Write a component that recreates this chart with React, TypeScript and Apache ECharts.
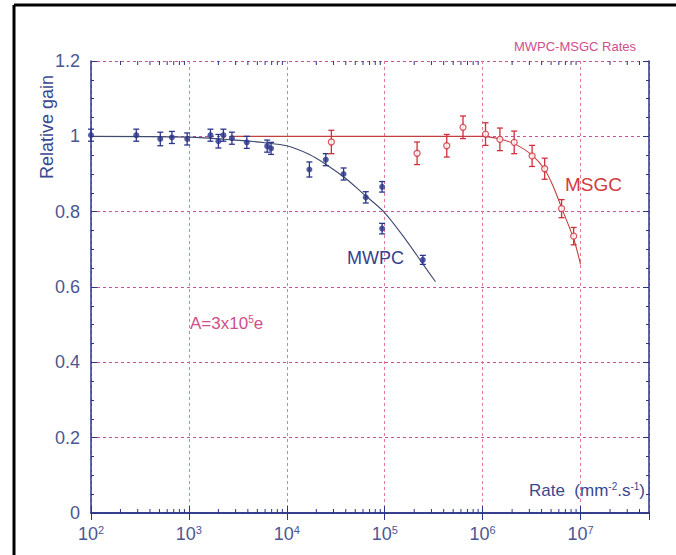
import React, { useEffect, useRef } from "react";
import * as echarts from "echarts";

// ---- Data ----
const MWPC_X = [100, 290, 510, 670, 960, 1660, 2000, 2250, 2750, 3900, 6300, 6900, 17000, 25000, 38000, 64000, 94000, 94000, 245000];
const MWPC_Y = [1.003, 1.003, 0.993, 0.997, 0.993, 1.003, 0.987, 1.003, 0.995, 0.984, 0.974, 0.968, 0.912, 0.938, 0.9, 0.838, 0.866, 0.755, 0.672];
const MWPC_ERR = [0.016, 0.016, 0.018, 0.016, 0.016, 0.016, 0.018, 0.016, 0.016, 0.016, 0.016, 0.016, 0.02, 0.016, 0.016, 0.015, 0.014, 0.014, 0.012];

const MSGC_X = [28500, 214000, 430000, 630000, 1070000, 1500000, 2100000, 3200000, 4300000, 6400000, 8500000];
const MSGC_Y = [0.985, 0.955, 0.975, 1.024, 1.006, 0.992, 0.984, 0.948, 0.914, 0.808, 0.735];
const MSGC_ERR = [0.031, 0.03, 0.03, 0.03, 0.03, 0.03, 0.03, 0.028, 0.028, 0.024, 0.023];

const MWPC_FIT_X = [100, 1000, 3000, 6000, 10000, 17000, 25000, 40000, 60000, 100000, 170000, 250000, 330000];
const MWPC_FIT_Y = [1.0, 0.998, 0.99, 0.983, 0.975, 0.952, 0.926, 0.888, 0.848, 0.797, 0.72, 0.658, 0.614];

const MSGC_FIT_X = [2700, 1000000, 1500000, 2200000, 3200000, 4300000, 5300000, 6400000, 8500000, 10000000];
const MSGC_FIT_Y = [1.0, 1.0, 0.993, 0.978, 0.95, 0.912, 0.865, 0.81, 0.728, 0.66];

const X_DECADES = [100, 1000, 10000, 100000, 1000000, 10000000];
const X_MINOR_MULT = [2, 3, 4, 5, 6, 7, 8, 9];
const X_MIN = 100;
const X_MAX = 50000000;
const Y_MIN = 0;
const Y_MAX = 1.2;

const FONT = "'Liberation Sans', Arial, sans-serif";
const NAVY = "#2b3588";
const LABEL = "#4b5792";
const RED = "#d0303c";
const PINK = "#cf4f8a";

function errorBarSeries(xs: number[], ys: number[], es: number[], color: string) {
  return {
    type: "custom",
    z: 3,
    data: xs.map((x, i) => [x, ys[i], es[i]]),
    encode: { x: 0, y: 1 },
    renderItem: (_p: any, api: any) => {
      const x = api.value(0);
      const y = api.value(1);
      const e = api.value(2);
      const t = api.coord([x, y + e]);
      const b = api.coord([x, y - e]);
      const w = 3;
      const st = { stroke: color, lineWidth: 1.3 };
      return {
        type: "group",
        children: [
          { type: "line", shape: { x1: t[0], y1: t[1], x2: b[0], y2: b[1] }, style: st },
          { type: "line", shape: { x1: t[0] - w, y1: t[1], x2: t[0] + w, y2: t[1] }, style: st },
          { type: "line", shape: { x1: b[0] - w, y1: b[1], x2: b[0] + w, y2: b[1] }, style: st },
        ],
      };
    },
  };
}

function supRich(color: string, base: number, sup: number) {
  return {
    a: { fontSize: base, lineHeight: base + 1, verticalAlign: "bottom", fill: color, color, fontFamily: FONT },
    s: { fontSize: sup, lineHeight: sup + 1, verticalAlign: "top", padding: [0, 0, Math.round(base * 0.6), 0], fill: color, color, fontFamily: FONT },
  };
}

export default function App() {
  const ref = useRef<HTMLDivElement>(null);
  useEffect(() => {
    if (!ref.current) return;
    const chart = echarts.init(ref.current, undefined, { renderer: "svg" });

    const minorTicks: number[][] = [];
    X_DECADES.forEach((d) => X_MINOR_MULT.forEach((m) => {
      if (d * m < X_MAX) minorTicks.push([d * m, 0]);
    }));

    const xLabelFmt = (v: number) => {
      const e = Math.round(Math.log10(v));
      if (Math.abs(Math.pow(10, e) - v) / v > 1e-6) return "";
      return `{a|10}{s|${e}}`;
    };

    const option: any = {
      animation: false,
      backgroundColor: "#ffffff",
      grid: { left: 91, right: 27, top: 61, bottom: 42, containLabel: false },
      xAxis: [
        {
          type: "log",
          logBase: 10,
          min: X_MIN,
          max: X_MAX,
          position: "bottom",
          axisLine: { show: true, lineStyle: { color: NAVY, width: 1.5 } },
          axisTick: { show: true, inside: true, length: 7, lineStyle: { color: NAVY, width: 1 } },
          axisLabel: { formatter: xLabelFmt, fontSize: 18, color: LABEL, rich: supRich(LABEL, 18, 11), margin: 11, showMaxLabel: false },
          splitLine: { show: true, lineStyle: { color: "#e27a9c", type: [3, 3], width: 1 } },
          minorTick: { show: false },
        },
        {
          type: "log",
          logBase: 10,
          min: X_MIN,
          max: X_MAX,
          position: "top",
          axisLine: { show: true, lineStyle: { color: NAVY, width: 1.5 } },
          axisTick: { show: true, inside: true, length: 7, lineStyle: { color: NAVY, width: 1 } },
          axisLabel: { show: false },
          splitLine: { show: false },
        },
      ],
      yAxis: [
        {
          type: "value",
          min: Y_MIN,
          max: Y_MAX,
          interval: 0.2,
          position: "left",
          axisLine: { show: true, lineStyle: { color: NAVY, width: 1.5 } },
          axisTick: { show: true, inside: true, length: 6, lineStyle: { color: NAVY, width: 1 } },
          minorTick: { show: true, splitNumber: 4, length: 3, lineStyle: { color: NAVY, width: 1 } },
          axisLabel: {
            formatter: (v: number) => String(+v.toFixed(1)),
            color: LABEL,
            fontSize: 18,
            fontFamily: FONT,
            margin: 11,
          },
          splitLine: { show: true, lineStyle: { color: "#c2589a", type: [3, 3], width: 1 } },
        },
        {
          type: "value",
          min: Y_MIN,
          max: Y_MAX,
          interval: 0.2,
          position: "right",
          axisLine: { show: true, lineStyle: { color: NAVY, width: 1.5 } },
          axisTick: { show: true, inside: true, length: 6, lineStyle: { color: NAVY, width: 1 } },
          minorTick: { show: true, splitNumber: 4, length: 3, lineStyle: { color: NAVY, width: 1 } },
          axisLabel: { show: false },
          splitLine: { show: false },
        },
      ],
      series: [
        {
          type: "custom",
          z: 1,
          silent: true,
          data: minorTicks,
          encode: { x: 0, y: 1 },
          renderItem: (_p: any, api: any) => {
            const v = api.value(0);
            const b = api.coord([v, Y_MIN]);
            const t = api.coord([v, Y_MAX]);
            const st = { stroke: NAVY, lineWidth: 1 };
            return {
              type: "group",
              children: [
                { type: "line", shape: { x1: b[0], y1: b[1], x2: b[0], y2: b[1] - 4 }, style: st },
                { type: "line", shape: { x1: t[0], y1: t[1], x2: t[0], y2: t[1] + 4 }, style: st },
              ],
            };
          },
        },
        {
          type: "line",
          data: MWPC_FIT_X.map((x, i) => [x, MWPC_FIT_Y[i]]),
          smooth: 0.3,
          showSymbol: false,
          z: 2,
          lineStyle: { color: "#3e4a6e", width: 1.1 },
        },
        {
          type: "line",
          data: MSGC_FIT_X.map((x, i) => [x, MSGC_FIT_Y[i]]),
          smooth: 0.3,
          showSymbol: false,
          z: 2,
          lineStyle: { color: "#c2403f", width: 1.1 },
        },
        errorBarSeries(MWPC_X, MWPC_Y, MWPC_ERR, NAVY),
        errorBarSeries(MSGC_X, MSGC_Y, MSGC_ERR, RED),
        {
          type: "scatter",
          z: 4,
          data: MWPC_X.map((x, i) => [x, MWPC_Y[i]]),
          symbol: "circle",
          symbolSize: 6,
          itemStyle: { color: NAVY },
        },
        {
          type: "scatter",
          z: 4,
          data: MSGC_X.map((x, i) => [x, MSGC_Y[i]]),
          symbol: "circle",
          symbolSize: 6,
          itemStyle: { color: "#ffffff", borderColor: RED, borderWidth: 1.3 },
        },
      ],
      graphic: [
        { type: "line", shape: { x1: 14, y1: 5, x2: 676, y2: 5 }, style: { stroke: "#000", lineWidth: 3 } },
        { type: "line", shape: { x1: 14, y1: 5, x2: 14, y2: 555 }, style: { stroke: "#000", lineWidth: 3 } },
        {
          type: "text",
          x: 636,
          y: 46,
          style: { text: "MWPC-MSGC Rates", fill: PINK, fontSize: 13, fontFamily: FONT, align: "right", verticalAlign: "middle" },
        },
        {
          type: "text",
          x: 47,
          y: 127,
          rotation: Math.PI / 2,
          style: { text: "Relative gain", fill: "#3a4890", fontSize: 18, fontFamily: FONT, align: "center", verticalAlign: "middle" },
        },
        {
          type: "text",
          x: 645,
          y: 490,
          style: {
            text: "{a|Rate  (mm}{s|-2}{a|.s}{s|-1}{a|)}",
            align: "right",
            verticalAlign: "middle",
            rich: supRich("#3a4890", 17, 10),
          },
        },
        {
          type: "text",
          x: 347,
          y: 258,
          style: { text: "MWPC", fill: "#34428e", fontSize: 18, fontFamily: FONT, verticalAlign: "middle" },
        },
        {
          type: "text",
          x: 565,
          y: 184,
          style: { text: "MSGC", fill: "#d13a3e", fontSize: 19, fontFamily: FONT, verticalAlign: "middle" },
        },
        {
          type: "text",
          x: 190,
          y: 323,
          style: {
            text: "{a|A=3x10}{s|5}{a|e}",
            verticalAlign: "middle",
            rich: supRich(PINK, 17, 10),
          },
        },
      ],
    };
    chart.setOption(option);
    return () => chart.dispose();
  }, []);

  return (
    <div
      ref={ref}
      style={{ position: "fixed", left: 0, top: 0, width: 676, height: 555, background: "#fff" }}
    />
  );
}
